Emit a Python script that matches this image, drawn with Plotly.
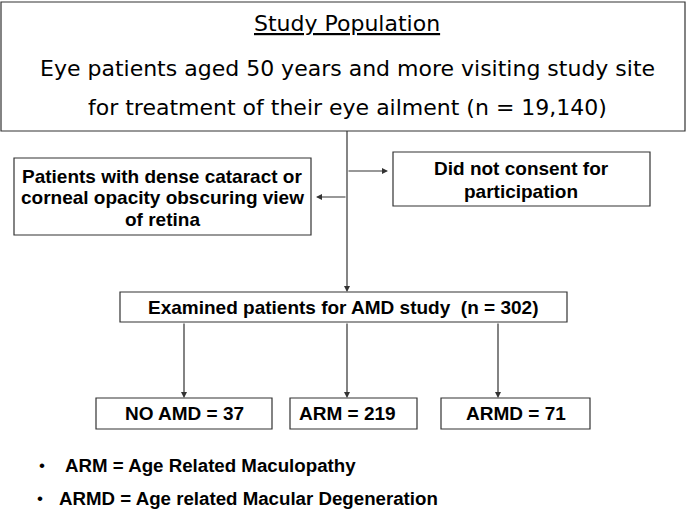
import plotly.graph_objects as go

# ---- data ----
population_title = "Study Population"
population_lines = ["Eye patients aged 50 years and more visiting study site",
                    "for treatment of their eye ailment (n = 19,140)"]
excluded_left = ["Patients with dense cataract or", "corneal opacity obscuring view", "of retina"]
excluded_right = ["Did not consent for", "participation"]
examined_n = 302
outcome_labels = ["NO AMD", "ARM", "ARMD"]
outcome_counts = [37, 219, 71]
footnotes = ["ARM = Age Related Maculopathy", "ARMD = Age related Macular Degeneration"]

W, H = 687, 514
FONT = "Liberation Sans, Arial, sans-serif"
FONT_TOP = "DejaVu Sans, sans-serif"
LC = "#333333"

fig = go.Figure()
fig.add_trace(go.Scatter(x=[0, W], y=[0, H], mode="markers", marker=dict(opacity=0), hoverinfo="skip", showlegend=False))

shapes = []
ann = []

def box(x0, y0, x1, y1):
    shapes.append(dict(type="rect", xref="x", yref="y", x0=x0, y0=y0, x1=x1, y1=y1,
                       line=dict(color=LC, width=1.2), fillcolor="white", layer="below"))

def text(x, y, s, size, bold=False, xanchor="center", family=FONT):
    if bold:
        s = "<b>" + s + "</b>"
    ann.append(dict(x=x, y=y, xref="x", yref="y", text=s, showarrow=False, xanchor=xanchor, yanchor="middle",
                    font=dict(family=family, size=size, color="black")))

def line(x0, y0, x1, y1):
    shapes.append(dict(type="line", xref="x", yref="y", x0=x0, y0=y0, x1=x1, y1=y1, line=dict(color=LC, width=1.2)))

def arrow(x0, y0, x1, y1):
    ann.append(dict(x=x1, y=y1, ax=x0, ay=y0, xref="x", yref="y", axref="x", ayref="y", text="", showarrow=True,
                    arrowhead=2, arrowsize=1, arrowwidth=1.2, arrowcolor=LC, standoff=0, startstandoff=0))

TX = 347  # trunk x

# top box
box(1, 2, 685, 131)
text(TX, 23, "<u>" + population_title + "</u>", 22, family=FONT_TOP)
text(TX, 68, population_lines[0], 22, family=FONT_TOP)
text(TX, 107, population_lines[1], 22, family=FONT_TOP)

# trunk
line(TX, 131, TX, 286)
arrow(TX, 286, TX, 292)
arrow(TX, 171, 388, 171)
arrow(TX, 197, 316, 197)

# side boxes
box(14, 158, 311, 235)
for i, s in enumerate(excluded_left):
    text(162, 176 + i * 21.5, s, 19, bold=True)
box(393, 152, 650, 206)
for i, s in enumerate(excluded_right):
    text(521, 168 + i * 23, s, 19, bold=True)

# examined box
box(120, 292, 567, 322)
text(343, 307, f"Examined patients for AMD study  (n = {examined_n})", 19, bold=True)

# outcome boxes
ox = [(96, 272), (290, 417), (441, 590)]
ax_ = [184, 347, 498]
for (x0, x1), axx in zip(ox, ax_):
    arrow(axx, 322, axx, 398)
    box(x0, 398, x1, 429)
for (x0, x1), lab, c, xa in zip(ox, outcome_labels, outcome_counts, ["center", "left", "center"]):
    if xa == "left":
        text(x0 + 7, 413, f"{lab} = {c}", 19, bold=True, xanchor="left")
    else:
        text((x0 + x1) / 2, 413, f"{lab} = {c}", 19, bold=True)

# footnotes
bullet_x = [42, 40]
text_x = [63, 57]
rows_y = [465, 498]
for i, s in enumerate(footnotes):
    text(bullet_x[i], rows_y[i], "•", 17)
    text(text_x[i], rows_y[i], s, 18.7, bold=True, xanchor="left")

fig.update_layout(
    width=W, height=H, margin=dict(l=0, r=0, t=0, b=0),
    plot_bgcolor="white", paper_bgcolor="white",
    xaxis=dict(range=[0, W], visible=False, fixedrange=True),
    yaxis=dict(range=[H, 0], visible=False, fixedrange=True),
    shapes=shapes, annotations=ann, showlegend=False,
)
fig.write_html("out.html", config={"displayModeBar": False},
               post_script="document.body.style.margin='0';document.body.style.overflow='hidden';")
